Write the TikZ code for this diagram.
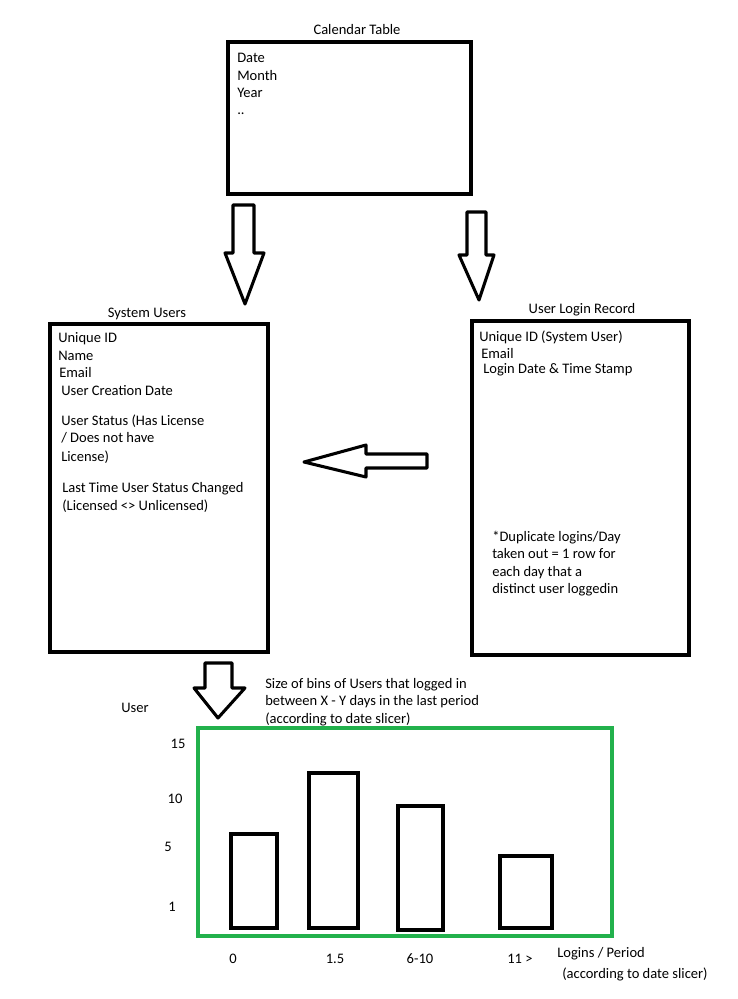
\documentclass[tikz,border=0pt]{standalone}
\usepackage{fontspec}
\setmainfont{Carlito}
\definecolor{paintgreen}{HTML}{22B14C}
\begin{document}
\begin{tikzpicture}[x=0.75pt,y=-0.75pt,
  tbl/.style={draw=black,line width=3.6pt},
  blockarrow/.style={draw=black,line width=2.3pt,line join=round,fill=white},
  bar/.style={draw=black,line width=2.3pt},
  txt/.style={inner sep=0pt,anchor=west,yshift=-1pt,text height=1.6ex,text depth=0.45ex,font=\fontsize{10.9pt}{13pt}\selectfont},
  ttl/.style={inner sep=0pt,anchor=center,yshift=-1pt,text height=1.6ex,text depth=0.45ex,font=\fontsize{10.9pt}{13pt}\selectfont}]
\useasboundingbox (0,0) rectangle (738,999);
% Calendar table
\draw[tbl] (228,42) rectangle (471,194);
\node[ttl] (calT) at (357,30) {Calendar Table};
\node[txt] (c1) at (237,58) {Date};
\node[txt] (c2) at (237,76) {Month};
\node[txt] (c3) at (237,93) {Year};
\node[txt] (c4) at (237,110) {..};
% down arrows
\draw[blockarrow] (233,205) -- (254,205) -- (254,253) -- (264,253) -- (245,304) -- (225,253) -- (233,253) -- cycle;
\draw[blockarrow] (467,212) -- (486,212) -- (486,255) -- (494,255) -- (479,300) -- (459,255) -- (467,255) -- cycle;
% System users
\draw[tbl] (50,324) rectangle (268,652);
\node[ttl] (suT) at (147,313) {System Users};
\node[txt] at (58,338) {Unique ID};
\node[txt] at (58,356) {Name};
\node[txt] at (59,373) {Email};
\node[txt] at (61,391) {User Creation Date};
\node[txt] at (61,421) {User Status (Has License};
\node[txt] at (61,438) {/ Does not have};
\node[txt] at (61,456) {License)};
\node[txt] at (62,488) {Last Time User Status Changed};
\node[txt] at (62,505) {(Licensed <> Unlicensed)};
% User login record
\draw[tbl] (472,321) rectangle (689,655);
\node[ttl] (ulT) at (582,309) {User Login Record};
\node[txt] at (479,337) {Unique ID (System User)};
\node[txt] at (481,354) {Email};
\node[txt] at (483,369) {Login Date \& Time Stamp};
\node[txt] at (492,536) {*Duplicate logins/Day};
\node[txt] at (492,553) {taken out = 1 row for};
\node[txt] at (492,571) {each day that a};
\node[txt] at (492,588) {distinct user loggedin};
% left arrow
\draw[blockarrow] (427,454) -- (427,468) -- (366,468) -- (366,477) -- (304,462) -- (366,445) -- (366,454) -- cycle;
% bottom arrow
\draw[blockarrow] (205,663) -- (232,663) -- (232,688) -- (245,688) -- (218,718) -- (194,688) -- (205,688) -- cycle;
\node[txt] at (265,683) {Size of bins of Users that logged in};
\node[txt] at (265,700) {between X - Y days in the last period};
\node[txt] at (265,718) {(according to date slicer)};
\node[ttl] (yl) at (135,707) {User};
% chart
\draw[draw=paintgreen,line width=3pt] (198,728) rectangle (612,936);
\node[ttl] at (178,743) {15};
\node[ttl] at (175,798) {10};
\node[ttl] at (168,846) {5};
\node[ttl] at (172,906) {1};
\draw[bar] (231,834) rectangle (277,928);
\draw[bar] (309,773) rectangle (358,928);
\draw[bar] (398,806) rectangle (443,930);
\draw[bar] (500,856) rectangle (552,928);
\node[ttl] at (233,958) {0};
\node[ttl] at (335,958) {1.5};
\node[ttl] at (420,958) {6-10};
\node[ttl] at (520,958) {11 >};
\node[txt] at (557,952) {Logins / Period};
\node[txt] at (562,973) {(according to date slicer)};
\end{tikzpicture}
\end{document}
